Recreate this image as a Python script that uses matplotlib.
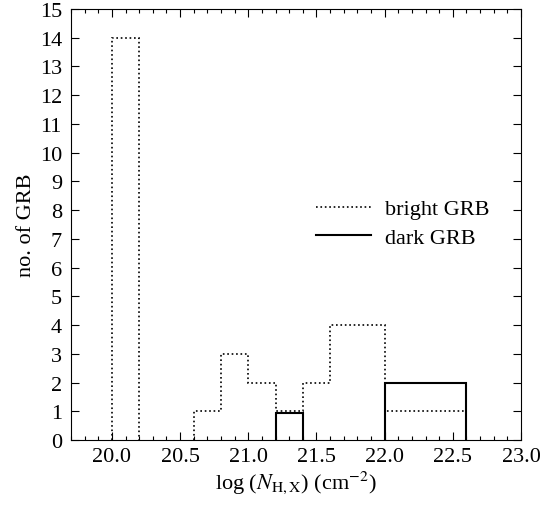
import numpy as np
import matplotlib
matplotlib.use('Agg')
import matplotlib.pyplot as plt
from matplotlib.ticker import MultipleLocator

plt.rcParams['font.family'] = ['Liberation Serif', 'DejaVu Serif']
plt.rcParams['mathtext.fontset'] = 'stix'

# histogram of log N_H,X, bins of 0.2 dex
edges_bright = [20.0, 20.2, 20.4, 20.6, 20.8, 21.0, 21.2, 21.4, 21.6, 21.8, 22.0, 22.2, 22.4, 22.6]
counts_bright = [14, 0, 0, 1, 3, 2, 1, 2, 4, 4, 1, 1, 1]
edges_dark = [21.2, 21.4, 21.6, 21.8, 22.0, 22.2, 22.4, 22.6]
counts_dark = [0.95, 0, 0, 0, 2, 2, 2]


def draw_hist(ax, edges, counts, **kw):
    # draw each run of non-empty bins on its own, so empty bins leave no line on the axis
    edges = np.asarray(edges)
    counts = np.asarray(counts, dtype=float)
    nz = counts > 0
    i = 0
    first = True
    while i < len(counts):
        if not nz[i]:
            i += 1
            continue
        j = i
        while j < len(counts) and nz[j]:
            j += 1
        lab = kw.pop('label', None) if first else None
        ax.stairs(counts[i:j], edges[i:j + 1], baseline=0, label=lab, **kw)
        first = False
        i = j


width, height, dpi = 547, 506, 100.0
fig = plt.figure(figsize=(width/dpi, height/dpi), dpi=dpi)
ax = fig.add_axes([0.1298, 0.1285, 0.8227, 0.8518])

draw_hist(ax, edges_bright, counts_bright, color='black', linestyle=':',
          linewidth=1.2, label='bright GRB')
draw_hist(ax, edges_dark, counts_dark, color='black', linestyle='-',
          linewidth=1.5, label='dark GRB')

ax.set_xlim(19.7, 23.0)
ax.set_ylim(0, 15)
ax.xaxis.set_major_locator(MultipleLocator(0.5))
ax.xaxis.set_minor_locator(MultipleLocator(0.1))
ax.yaxis.set_major_locator(MultipleLocator(1))
ax.xaxis.set_major_formatter(plt.FormatStrFormatter('%.1f'))
ax.tick_params(which='both', direction='in', top=True, right=True, labelsize=16)
ax.tick_params(axis='y', pad=6.5)
ax.tick_params(axis='x', pad=5)
ax.tick_params(which='major', length=6, width=0.8)
ax.tick_params(which='minor', length=3, width=0.8)

ax.set_xlabel(r'log ($N_{\rm H,X}$) (cm$^{-2}$)', fontsize=16, labelpad=2)
ax.set_ylabel('no. of GRB', fontsize=16, labelpad=3)

ax.legend(loc='center left', bbox_to_anchor=(0.544, 0.503), frameon=False, fontsize=16,
          borderpad=0, borderaxespad=0, handlelength=2.5, handletextpad=0.6,
          labelspacing=0.35)

plt.savefig('out.png', dpi=dpi)
plt.close(fig)
